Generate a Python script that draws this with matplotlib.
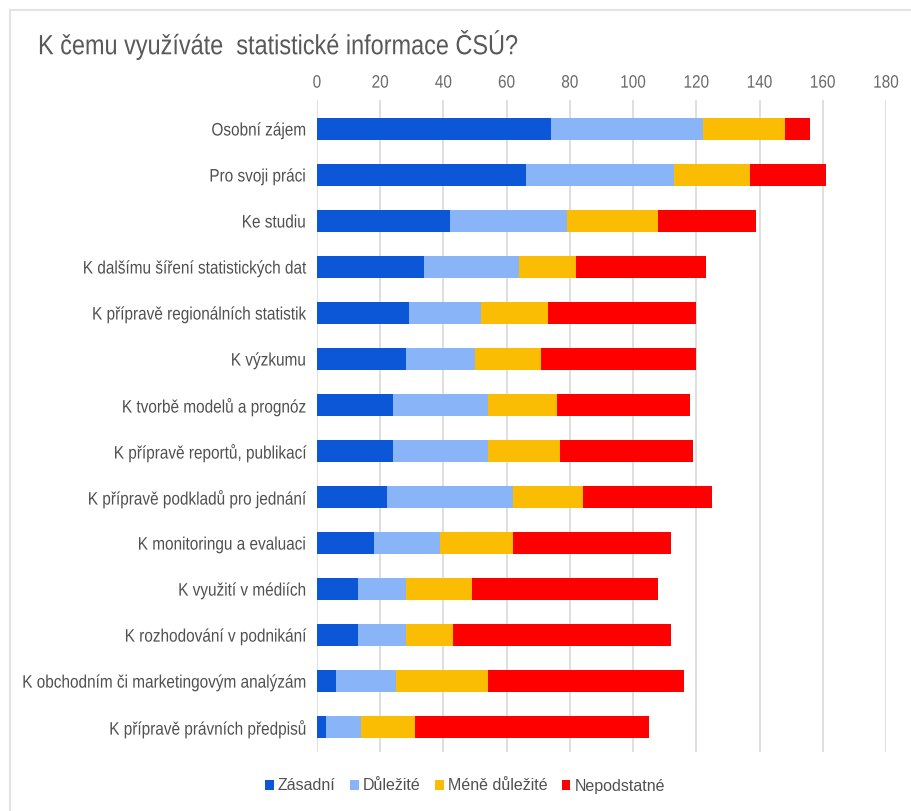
import numpy as np
import matplotlib
matplotlib.use('Agg')
import matplotlib.pyplot as plt
from matplotlib.patches import Rectangle
from matplotlib.patheffects import AbstractPathEffect
from matplotlib.transforms import Affine2D

plt.rcParams['font.family'] = ['Liberation Sans', 'DejaVu Sans']

categories = [
    'Osobní zájem',
    'Pro svoji práci',
    'Ke studiu',
    'K dalšímu šíření statistických dat',
    'K přípravě regionálních statistik',
    'K výzkumu',
    'K tvorbě modelů a prognóz',
    'K přípravě reportů, publikací',
    'K přípravě podkladů pro jednání',
    'K monitoringu a evaluaci',
    'K využití v médiích',
    'K rozhodování v podnikání',
    'K obchodním či marketingovým analýzám',
    'K přípravě právních předpisů',
]
zasadni = [74, 66, 42, 34, 29, 28, 24, 24, 22, 18, 13, 13, 6, 3]
dulezite = [48, 47, 37, 30, 23, 22, 30, 30, 40, 21, 15, 15, 19, 11]
mene_dulezite = [26, 24, 29, 18, 21, 21, 22, 23, 22, 23, 21, 15, 29, 17]
nepodstatne = [8, 24, 31, 41, 47, 49, 42, 42, 41, 50, 59, 69, 62, 74]

series_names = ['Zásadní', 'Důležité', 'Méně důležité', 'Nepodstatné']
colors = ['#0B57D8', '#8AB4F8', '#FBBC04', '#FF0000']


class Squeeze(AbstractPathEffect):
    # narrow the glyphs horizontally (the source uses a condensed face)
    def __init__(self, sx, anchor='right'):
        super().__init__()
        self.sx = sx
        self.anchor = anchor

    def draw_path(self, renderer, gc, tpath, affine, rgbFace=None):
        xs = affine.transform(tpath.vertices)[:, 0]
        if len(xs) == 0:
            return
        if self.anchor == 'right':
            x0 = xs.max()
        elif self.anchor == 'left':
            x0 = xs.min()
        else:
            x0 = (xs.min() + xs.max()) / 2
        tr = affine + Affine2D().translate(-x0, 0).scale(self.sx, 1).translate(x0, 0)
        renderer.draw_path(gc, tpath, tr, rgbFace)


W, H = 911, 811
fig = plt.figure(figsize=(W / 100, H / 100), dpi=100)

# light frame round the chart
fig.patches.append(Rectangle((10 / W, -0.05), 1.0, 1 - 10 / H + 0.05,
                             transform=fig.transFigure, fill=False,
                             edgecolor='#E3E3E3', linewidth=1.5))

ax = fig.add_axes([317 / W, 1 - 752 / H, (886 - 317) / W, (752 - 100) / H])

y = np.arange(len(categories))
left = np.zeros(len(categories))
for vals, name, col in zip([zasadni, dulezite, mene_dulezite, nepodstatne], series_names, colors):
    ax.barh(y, vals, left=left, height=0.47, color=col, label=name, zorder=3)
    left += np.array(vals)

ax.set_xlim(0, 180)
ax.set_ylim(13.54, -0.63)
ax.set_xticks(np.arange(0, 181, 20))
ax.set_yticks(y)
ax.set_yticklabels(categories, fontsize=13, color='#505050')
ax.xaxis.tick_top()
ax.tick_params(axis='x', length=0, labelsize=13, labelcolor='#6A6A6A', pad=6)
ax.tick_params(axis='y', length=0, pad=8)
ax.grid(axis='x', color='#D9D9D9', linewidth=1.2, zorder=0)
for s in ax.spines.values():
    s.set_visible(False)

for t in ax.get_yticklabels():
    t.set_path_effects([Squeeze(0.85, 'right')])
for t in ax.get_xticklabels():
    t.set_path_effects([Squeeze(0.85, 'center')])

title = fig.text(38 / W, 1 - 45 / H, 'K čemu využíváte  statistické informace ČSÚ?',
                 fontsize=20, color='#595959', va='center', ha='left')
title.set_path_effects([Squeeze(0.845, 'left')])

fig.legend(loc='center', bbox_to_anchor=(465 / W, 1 - 786 / H), ncol=4,
           frameon=False, fontsize=11.5, handlelength=0.55, handleheight=0.55,
           handletextpad=0.25, columnspacing=0.9, labelcolor='#505050')

fig.savefig('out.png', dpi=100)
